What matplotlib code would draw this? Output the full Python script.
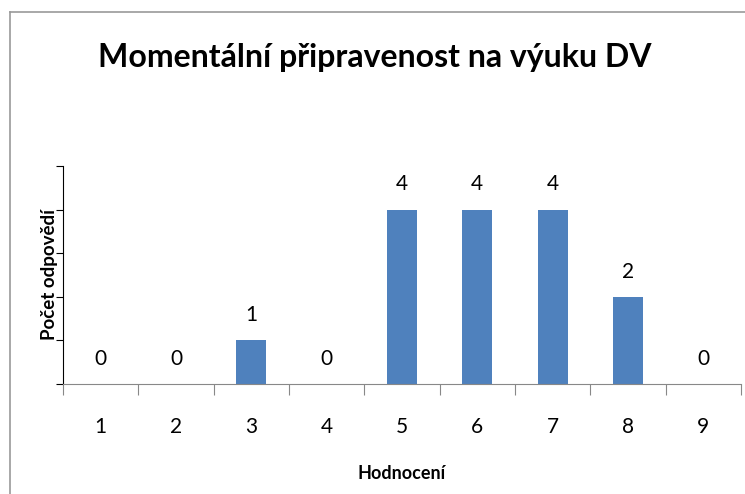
import matplotlib.pyplot as plt
from matplotlib.lines import Line2D

categories = ["1", "2", "3", "4", "5", "6", "7", "8", "9"]
counts = [0, 0, 1, 0, 4, 4, 4, 2, 0]

plt.rcParams["font.family"] = ["Lato", "DejaVu Sans"]

fig = plt.figure(figsize=(7.45, 4.94), dpi=100)
ax = fig.add_axes([0.0846, 0.2227, 0.9100, 0.4413])

x = range(len(categories))
ax.bar(x, counts, width=0.4, color="#4F81BD")
for xi, c in zip(x, counts):
    ax.annotate(str(c), (xi, c), xytext=(0, 11), textcoords="offset points",
                ha="center", va="bottom", fontsize=15)

ax.set_xlim(-0.5, len(categories) - 0.5)
ax.set_ylim(0, 5)
ax.set_yticks(range(6))
ax.set_yticklabels([])
ax.set_xticks([i - 0.5 for i in range(len(categories) + 1)])
ax.set_xticklabels([])
ax.set_xticks(list(x), minor=True)
ax.set_xticklabels(categories, minor=True, fontsize=15)
ax.tick_params(axis="x", which="major", length=8, color="#888888")
ax.tick_params(axis="x", which="minor", length=0, pad=24)
ax.tick_params(axis="y", length=5, color="black")

for s in ["top", "right"]:
    ax.spines[s].set_visible(False)
ax.spines["bottom"].set_color("#888888")
ax.spines["left"].set_color("black")

ax.set_ylabel("Počet odpovědí", fontsize=13.5, fontweight="bold", labelpad=-5)
ax.set_xlabel("Hodnocení", fontsize=13, fontweight="bold", labelpad=20)

fig.text(0.503, 0.883, "Momentální připravenost na výuku DV",
         ha="center", va="center", fontsize=23, fontweight="bold")

# chart area border
fig.add_artist(Line2D([10 / 745, 1.0], [1 - 12 / 494, 1 - 12 / 494],
                      transform=fig.transFigure, color="#999999", lw=1.2))
fig.add_artist(Line2D([10 / 745, 10 / 745], [0.0, 1 - 12 / 494],
                      transform=fig.transFigure, color="#999999", lw=1.2))

fig.savefig("out.png", dpi=100)
